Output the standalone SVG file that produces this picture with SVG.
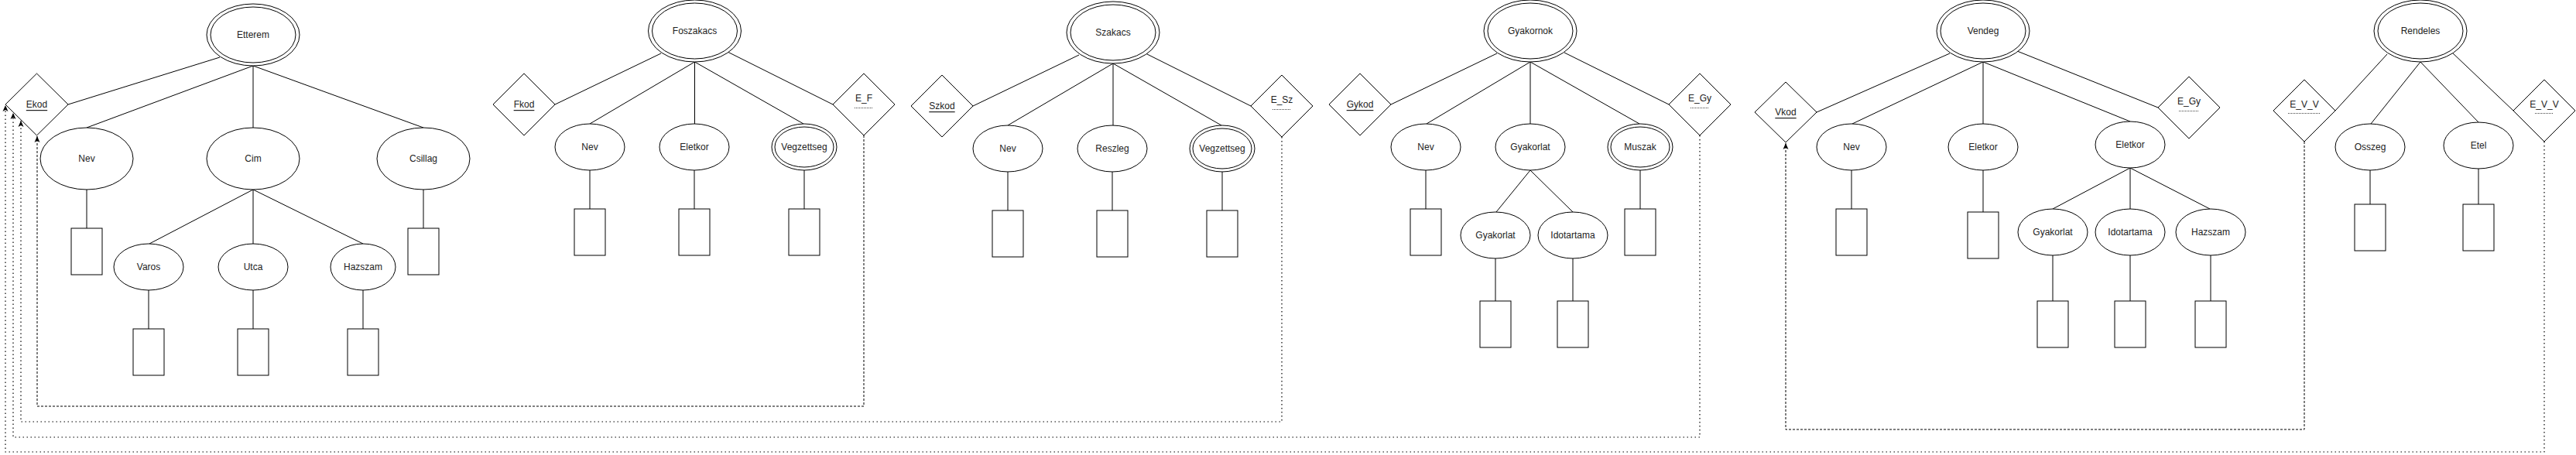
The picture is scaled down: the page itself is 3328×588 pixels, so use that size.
<svg xmlns="http://www.w3.org/2000/svg" width="3328" height="588" viewBox="0 0 3328 588">
<style>
  .e { fill: #fff; stroke: #000; stroke-width: 1; }
  .d { fill: #fff; stroke: #000; stroke-width: 1; }
  .r { fill: #fff; stroke: #000; stroke-width: 1; }
  .l { fill: none; stroke: #000; stroke-width: 1; }
  .t { font-family: "Liberation Sans", Arial, Helvetica, sans-serif; font-size: 12px; fill: #222; text-anchor: middle; dominant-baseline: central; }
  .u { text-decoration: underline; }
  .pu { stroke: #444; stroke-width: 1; stroke-dasharray: 1 1; fill: none; }
  .dash { fill: none; stroke: #000; stroke-width: 1; stroke-dasharray: 3 2; marker-end: url(#arr); }
  .dot { fill: none; stroke: #000; stroke-width: 1.2; stroke-dasharray: 1.5 3.5; marker-end: url(#arr); }
</style>
<defs>
  <marker id="arr" viewBox="0 0 8 8" refX="8" refY="4" markerWidth="8" markerHeight="8" markerUnits="userSpaceOnUse" orient="auto">
    <path d="M0,0.5 L8,4 L0,7.5 L2,4 Z" fill="#000" stroke="none"/>
  </marker>
</defs>
<rect width="3328" height="588" fill="#fff"/>

<g id="connectors">
  <path class="dash" d="M1116,175 V525 H48 V176"/>
  <path class="dot" d="M1656,177 V545 H27 V156"/>
  <path class="dot" d="M2196,175 V565 H17 V146"/>
  <path class="dot" d="M3287,183 V584 H7 V136"/>
  <path class="dash" d="M2977,183 V555 H2307 V185"/>
</g>

<g id="etterem">
  <path class="l" d="M88,135 L284,74 M327,85 L112,165 M327,85 L327,165 M327,85 L547,165 M112,245 V295 M547,245 V295 M327,245 L193,315 M327,245 V315 M327,245 L469,315 M192,375 V425 M327,375 V425 M469,375 V425"/>
  <ellipse class="e" cx="327" cy="45" rx="60" ry="40"/>
  <ellipse class="e" cx="327" cy="45" rx="55" ry="36"/>
  <text class="t" x="327" y="45">Etterem</text>
  <polygon class="d" points="7,135 47.5,95 88,135 47.5,175"/>
  <text class="t u" x="47.5" y="135">Ekod</text>
  <ellipse class="e" cx="112" cy="205" rx="60" ry="40"/>
  <text class="t" x="112" y="205">Nev</text>
  <ellipse class="e" cx="327" cy="205" rx="60" ry="40"/>
  <text class="t" x="327" y="205">Cim</text>
  <ellipse class="e" cx="547" cy="205" rx="60" ry="40"/>
  <text class="t" x="547" y="205">Csillag</text>
  <rect class="r" x="92" y="295" width="40" height="60"/>
  <rect class="r" x="527" y="295" width="40" height="60"/>
  <ellipse class="e" cx="192" cy="345" rx="45" ry="30"/>
  <text class="t" x="192" y="345">Varos</text>
  <ellipse class="e" cx="327" cy="345" rx="45" ry="30"/>
  <text class="t" x="327" y="345">Utca</text>
  <ellipse class="e" cx="469" cy="345" rx="42" ry="30"/>
  <text class="t" x="469" y="345">Hazszam</text>
  <rect class="r" x="172" y="425" width="40" height="60"/>
  <rect class="r" x="307" y="425" width="40" height="60"/>
  <rect class="r" x="449" y="425" width="40" height="60"/>
</g>

<g id="foszakacs">
  <path class="l" d="M717,135 L854,69 M897.5,80 L762,160 M897.5,80 L897.5,160 M897.5,80 L1038,160 M938,66 L1076,135 M762,220 V270 M897,220 V270 M1039,220 V270"/>
  <ellipse class="e" cx="897.5" cy="40" rx="60" ry="40"/>
  <ellipse class="e" cx="897.5" cy="40" rx="55" ry="36"/>
  <text class="t" x="897.5" y="40">Foszakacs</text>
  <polygon class="d" points="637,135 677,95 717,135 677,175"/>
  <text class="t u" x="677" y="135">Fkod</text>
  <polygon class="d" points="1076,135 1116,95 1156,135 1116,175"/>
  <text class="t" x="1116" y="127">E_F</text>
  <line class="pu" x1="1104" y1="139.5" x2="1128" y2="139.5"/>
  <ellipse class="e" cx="762" cy="190" rx="45" ry="30"/>
  <text class="t" x="762" y="190">Nev</text>
  <ellipse class="e" cx="897" cy="190" rx="45" ry="30"/>
  <text class="t" x="897" y="190">Eletkor</text>
  <ellipse class="e" cx="1039" cy="190" rx="42" ry="30"/>
  <ellipse class="e" cx="1039" cy="190" rx="38" ry="26"/>
  <text class="t" x="1039" y="190">Vegzettseg</text>
  <rect class="r" x="742" y="270" width="40" height="60"/>
  <rect class="r" x="877" y="270" width="40" height="60"/>
  <rect class="r" x="1019" y="270" width="40" height="60"/>
</g>

<g id="szakacs">
  <path class="l" d="M1257,137 L1394,71 M1438,82 L1302,162 M1438,82 L1438,162 M1438,82 L1578,162 M1480,69 L1616,137 M1302,222 V272 M1437,222 V272 M1579,222 V272"/>
  <ellipse class="e" cx="1438" cy="42" rx="60" ry="40"/>
  <ellipse class="e" cx="1438" cy="42" rx="55" ry="36"/>
  <text class="t" x="1438" y="42">Szakacs</text>
  <polygon class="d" points="1177,137 1217,97 1257,137 1217,177"/>
  <text class="t u" x="1217" y="137">Szkod</text>
  <polygon class="d" points="1616,137 1656,97 1696,137 1656,177"/>
  <text class="t" x="1656" y="129">E_Sz</text>
  <line class="pu" x1="1644" y1="141.5" x2="1668" y2="141.5"/>
  <ellipse class="e" cx="1302" cy="192" rx="45" ry="30"/>
  <text class="t" x="1302" y="192">Nev</text>
  <ellipse class="e" cx="1437" cy="192" rx="45" ry="30"/>
  <text class="t" x="1437" y="192">Reszleg</text>
  <ellipse class="e" cx="1579" cy="192" rx="42" ry="30"/>
  <ellipse class="e" cx="1579" cy="192" rx="38" ry="26"/>
  <text class="t" x="1579" y="192">Vegzettseg</text>
  <rect class="r" x="1282" y="272" width="40" height="60"/>
  <rect class="r" x="1417" y="272" width="40" height="60"/>
  <rect class="r" x="1559" y="272" width="40" height="60"/>
</g>

<g id="gyakornok">
  <path class="l" d="M1797,135 L1934,69 M1977,80 L1843,160 M1977,80 L1977,160 M1977,80 L2118,160 M2021,68 L2156,135 M1842,220 V270 M2119,220 V270 M1977,220 L1933,274 M1977,220 L2032,274 M1932,334 V389 M2032,334 V389"/>
  <ellipse class="e" cx="1977" cy="40" rx="60" ry="40"/>
  <ellipse class="e" cx="1977" cy="40" rx="55" ry="36"/>
  <text class="t" x="1977" y="40">Gyakornok</text>
  <polygon class="d" points="1717,135 1757,95 1797,135 1757,175"/>
  <text class="t u" x="1757" y="135">Gykod</text>
  <polygon class="d" points="2156,135 2196,95 2236,135 2196,175"/>
  <text class="t" x="2196" y="127">E_Gy</text>
  <line class="pu" x1="2184" y1="139.5" x2="2208" y2="139.5"/>
  <ellipse class="e" cx="1842" cy="190" rx="45" ry="30"/>
  <text class="t" x="1842" y="190">Nev</text>
  <ellipse class="e" cx="1977" cy="190" rx="45" ry="30"/>
  <text class="t" x="1977" y="190">Gyakorlat</text>
  <ellipse class="e" cx="2119" cy="190" rx="42" ry="30"/>
  <ellipse class="e" cx="2119" cy="190" rx="38" ry="26"/>
  <text class="t" x="2119" y="190">Muszak</text>
  <rect class="r" x="1822" y="270" width="40" height="60"/>
  <rect class="r" x="2099" y="270" width="40" height="60"/>
  <ellipse class="e" cx="1932" cy="304" rx="45" ry="30"/>
  <text class="t" x="1932" y="304">Gyakorlat</text>
  <ellipse class="e" cx="2032" cy="304" rx="45" ry="30"/>
  <text class="t" x="2032" y="304">Idotartama</text>
  <rect class="r" x="1912" y="389" width="40" height="60"/>
  <rect class="r" x="2012" y="389" width="40" height="60"/>
</g>

<g id="vendeg">
  <path class="l" d="M2347,145 L2519,69 M2562,80 L2393,160 M2562,80 L2562,160 M2562,80 L2752,157 M2606,66 L2788,139 M2392,220 V270 M2562,220 V274 M2752,217 L2652,270 M2752,217 L2752,270 M2752,217 L2855,270 M2652,330 V389 M2752,330 V389 M2856,330 V389"/>
  <ellipse class="e" cx="2562" cy="40" rx="60" ry="40"/>
  <ellipse class="e" cx="2562" cy="40" rx="55" ry="36"/>
  <text class="t" x="2562" y="40">Vendeg</text>
  <polygon class="d" points="2267,145 2307,106 2347,145 2307,184"/>
  <text class="t u" x="2307" y="145">Vkod</text>
  <polygon class="d" points="2788,139 2828,99 2868,139 2828,179"/>
  <text class="t" x="2828" y="131">E_Gy</text>
  <line class="pu" x1="2815" y1="143.5" x2="2840" y2="143.5"/>
  <ellipse class="e" cx="2392" cy="190" rx="45" ry="30"/>
  <text class="t" x="2392" y="190">Nev</text>
  <ellipse class="e" cx="2562" cy="190" rx="45" ry="30"/>
  <text class="t" x="2562" y="190">Eletkor</text>
  <ellipse class="e" cx="2752" cy="187" rx="45" ry="30"/>
  <text class="t" x="2752" y="187">Eletkor</text>
  <rect class="r" x="2372" y="270" width="40" height="60"/>
  <rect class="r" x="2542" y="274" width="40" height="60"/>
  <ellipse class="e" cx="2652" cy="300" rx="45" ry="30"/>
  <text class="t" x="2652" y="300">Gyakorlat</text>
  <ellipse class="e" cx="2752" cy="300" rx="45" ry="30"/>
  <text class="t" x="2752" y="300">Idotartama</text>
  <ellipse class="e" cx="2856" cy="300" rx="45" ry="30"/>
  <text class="t" x="2856" y="300">Hazszam</text>
  <rect class="r" x="2632" y="389" width="40" height="60"/>
  <rect class="r" x="2732" y="389" width="40" height="60"/>
  <rect class="r" x="2836" y="389" width="40" height="60"/>
</g>

<g id="rendeles">
  <path class="l" d="M3084,70 L3017,143 M3127,80 L3063,160 M3127,80 L3202,158 M3167,67 L3247,143 M3062,220 V264 M3202,218 V264"/>
  <ellipse class="e" cx="3127" cy="40" rx="60" ry="40"/>
  <ellipse class="e" cx="3127" cy="40" rx="55" ry="36"/>
  <text class="t" x="3127" y="40">Rendeles</text>
  <polygon class="d" points="2937,143 2977,103 3017,143 2977,183"/>
  <text class="t" x="2977" y="135">E_V_V</text>
  <line class="pu" x1="2956" y1="146.5" x2="2997" y2="146.5"/>
  <polygon class="d" points="3247,143 3287,103 3327,143 3287,183"/>
  <text class="t" x="3287" y="135">E_V_V</text>
  <line class="pu" x1="3275" y1="146.5" x2="3299" y2="146.5"/>
  <ellipse class="e" cx="3062" cy="190" rx="45" ry="30"/>
  <text class="t" x="3062" y="190">Osszeg</text>
  <ellipse class="e" cx="3202" cy="188" rx="45" ry="30"/>
  <text class="t" x="3202" y="188">Etel</text>
  <rect class="r" x="3042" y="264" width="40" height="60"/>
  <rect class="r" x="3182" y="264" width="40" height="60"/>
</g>
</svg>
